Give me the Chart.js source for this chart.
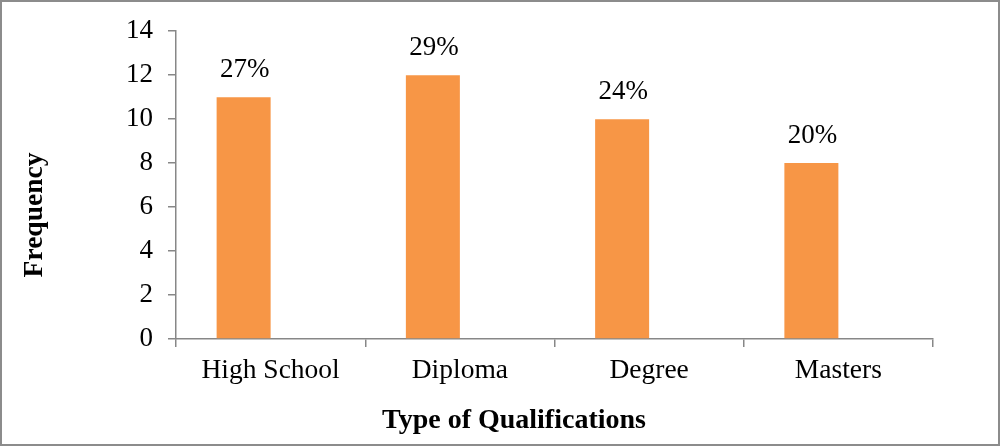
<!DOCTYPE html>
<html>
<head>
<meta charset="utf-8">
<script src="https://cdn.jsdelivr.net/npm/chart.js@4/dist/chart.umd.min.js"></script>
<style>
  html, body { margin: 0; padding: 0; background: #ffffff; }
  #wrap { width: 1004px; height: 447px; }
</style>
</head>
<body>
<div id="wrap"><canvas id="c" width="1004" height="447"></canvas></div>
<script>
// Qualification categories and respondent counts
const categories = ['High School', 'Diploma', 'Degree', 'Masters'];
const frequency = [11, 12, 10, 8];
const shareLabels = ['27%', '29%', '24%', '20%'];
const yTicks = [0, 2, 4, 6, 8, 10, 12, 14];
const xTitle = 'Type of Qualifications';
const yTitle = 'Frequency';

const SERIF = '"Liberation Serif", "Times New Roman", serif';
const AXIS_GREY = '#878787';
const FONT_SIZE = 27;

// Outer frame, axis titles and the percentage labels above each bar
const decorations = {
  id: 'decorations',
  beforeDraw(chart) {
    const ctx = chart.ctx;
    ctx.save();
    ctx.fillStyle = '#ffffff';
    ctx.fillRect(0, 0, chart.width, chart.height);
    ctx.restore();
  },
  afterDraw(chart) {
    const ctx = chart.ctx;
    ctx.save();
    ctx.strokeStyle = '#8c8c8c';
    ctx.lineWidth = 2;
    ctx.strokeRect(1, 1, 998, 444);

    ctx.fillStyle = '#000000';
    ctx.font = 'bold 28px ' + SERIF;
    ctx.textAlign = 'center';
    ctx.textBaseline = 'middle';
    ctx.fillText(xTitle, 514, 421);

    ctx.save();
    ctx.translate(35, 215);
    ctx.rotate(-Math.PI / 2);
    ctx.font = 'bold 27.5px ' + SERIF;
    ctx.fillText(yTitle, 0, 0);
    ctx.restore();

    const meta = chart.getDatasetMeta(0);
    ctx.font = FONT_SIZE + 'px ' + SERIF;
    ctx.textBaseline = 'alphabetic';
    meta.data.forEach((bar, i) => {
      ctx.fillText(shareLabels[i], bar.x + 1, bar.y - 20);
    });
    ctx.restore();
  }
};

new Chart(document.getElementById('c'), {
  type: 'bar',
  data: {
    labels: categories,
    datasets: [
      {
        label: yTitle,
        data: frequency,
        backgroundColor: '#F79646',
        borderWidth: 0,
        categoryPercentage: 0.5707,
        barPercentage: 1.0
      },
      {
        label: 'share',
        data: categories.map(() => null),
        backgroundColor: 'rgba(0,0,0,0)',
        categoryPercentage: 0.5707,
        barPercentage: 1.0
      }
    ]
  },
  options: {
    responsive: false,
    devicePixelRatio: 1,
    animation: false,
    layout: { padding: { left: 0, right: 71, top: 30, bottom: 0 } },
    plugins: {
      legend: { display: false },
      tooltip: { enabled: false },
      title: { display: false }
    },
    scales: {
      x: {
        offset: true,
        grid: {
          offset: true,
          drawOnChartArea: false,
          drawTicks: true,
          tickLength: 8,
          color: AXIS_GREY,
          lineWidth: 1.5
        },
        border: { display: true, color: AXIS_GREY, width: 1.5 },
        ticks: {
          color: '#000000',
          font: { family: SERIF, size: 27.5 },
          padding: 7,
          maxRotation: 0
        },
        afterFit(scale) { scale.height = 108; }
      },
      y: {
        min: 0,
        max: 14,
        afterBuildTicks(scale) { scale.ticks = yTicks.map(v => ({ value: v })); },
        grid: {
          drawOnChartArea: false,
          drawTicks: true,
          tickLength: 8,
          color: AXIS_GREY,
          lineWidth: 1.5
        },
        border: { display: true, color: AXIS_GREY, width: 1.5 },
        ticks: {
          color: '#000000',
          font: { family: SERIF, size: FONT_SIZE },
          padding: 15
        },
        afterFit(scale) { scale.width = 176; }
      }
    }
  },
  plugins: [decorations]
});
</script>
</body>
</html>
